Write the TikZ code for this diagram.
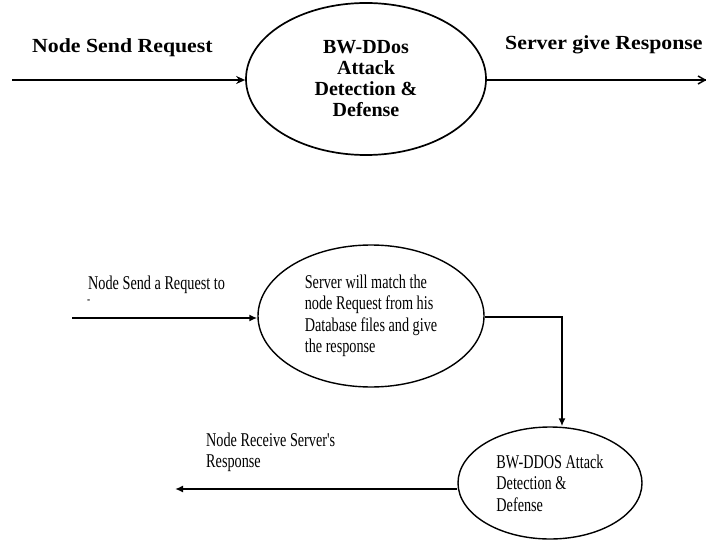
\documentclass[tikz,border=0pt]{standalone}
\usepackage{fontspec}
\setmainfont{Liberation Serif}
\newfontfamily\widefont[FakeStretch=1.09]{Liberation Serif}
\newfontfamily\narrowfont[FakeStretch=0.73]{Liberation Serif}
\usetikzlibrary{shapes.geometric,arrows.meta}
\tikzset{
  process/.style={ellipse, draw, line width=1.7pt, inner sep=0pt},
  flow/.style={line width=1.7pt, -{Stealth[length=9pt,width=8pt]}},
  flowb/.style={line width=1.6pt, -{Latex[length=8pt,width=7pt]}},
  biglabel/.style={inner sep=0pt, font=\widefont\bfseries\fontsize{20}{21}\selectfont},
  smalllabel/.style={inner sep=0pt, align=left, font=\narrowfont\fontsize{19.5}{20.5}\selectfont},
}
\begin{document}
\begin{tikzpicture}[x=1pt,y=-1pt]
\useasboundingbox (0,0) rectangle (706,540);

% upper flow
\node[process, minimum width=240pt, minimum height=152pt, align=center,
      font=\bfseries\fontsize{20}{21}\selectfont] (bw) at (366,79)
      {BW-DDos\\Attack\\Detection \&\\Defense};
\coordinate (src) at (12,80);
\coordinate (out) at (706,80);
\draw[flow] (src) -- (src -| bw.west);
\draw[line width=1.7pt] (out -| bw.east) -- (out);
\draw[line width=1.5pt] (698,76) -- (705,80) -- (698,84);
\node[biglabel, anchor=base west] (req) at (32,53) {Node Send Request};
\node[biglabel, anchor=base west] (resp) at (505,50) {Server give Response};

% lower flow
\node[process, line width=1.4pt, minimum width=226pt, minimum height=142pt,
      align=left, font=\narrowfont\fontsize{19.5}{21.5}\selectfont] (srv) at (371,316)
      {Server will match the\\node Request from his\\Database files and give\\the response};
\node[process, line width=1.4pt, minimum width=184pt, minimum height=112pt,
      align=left, font=\narrowfont\fontsize{19.5}{21.5}\selectfont] (def) at (550,483)
      {BW-DDOS Attack\\Detection \&\\Defense};
\coordinate (src2) at (72,318);
\coordinate (sink) at (175,489);
\coordinate (bend) at (562,317);
\draw[flowb] (src2) -- (src2 -| srv.west);
\draw[flowb] (srv.east |- bend) -- (bend) -- (def.north -| bend);
\draw[flowb] (def.west |- sink) -- (sink);
\node[smalllabel, anchor=base west] (req2) at (88,289) {Node Send a Request to};
\node[inner sep=0pt, anchor=base west, font=\narrowfont\fontsize{13}{13}\selectfont] (cut) at (87,303) {-};
\node[smalllabel, anchor=north west] (recv) at (206,433) {Node Receive Server's\\Response};
\end{tikzpicture}
\end{document}
